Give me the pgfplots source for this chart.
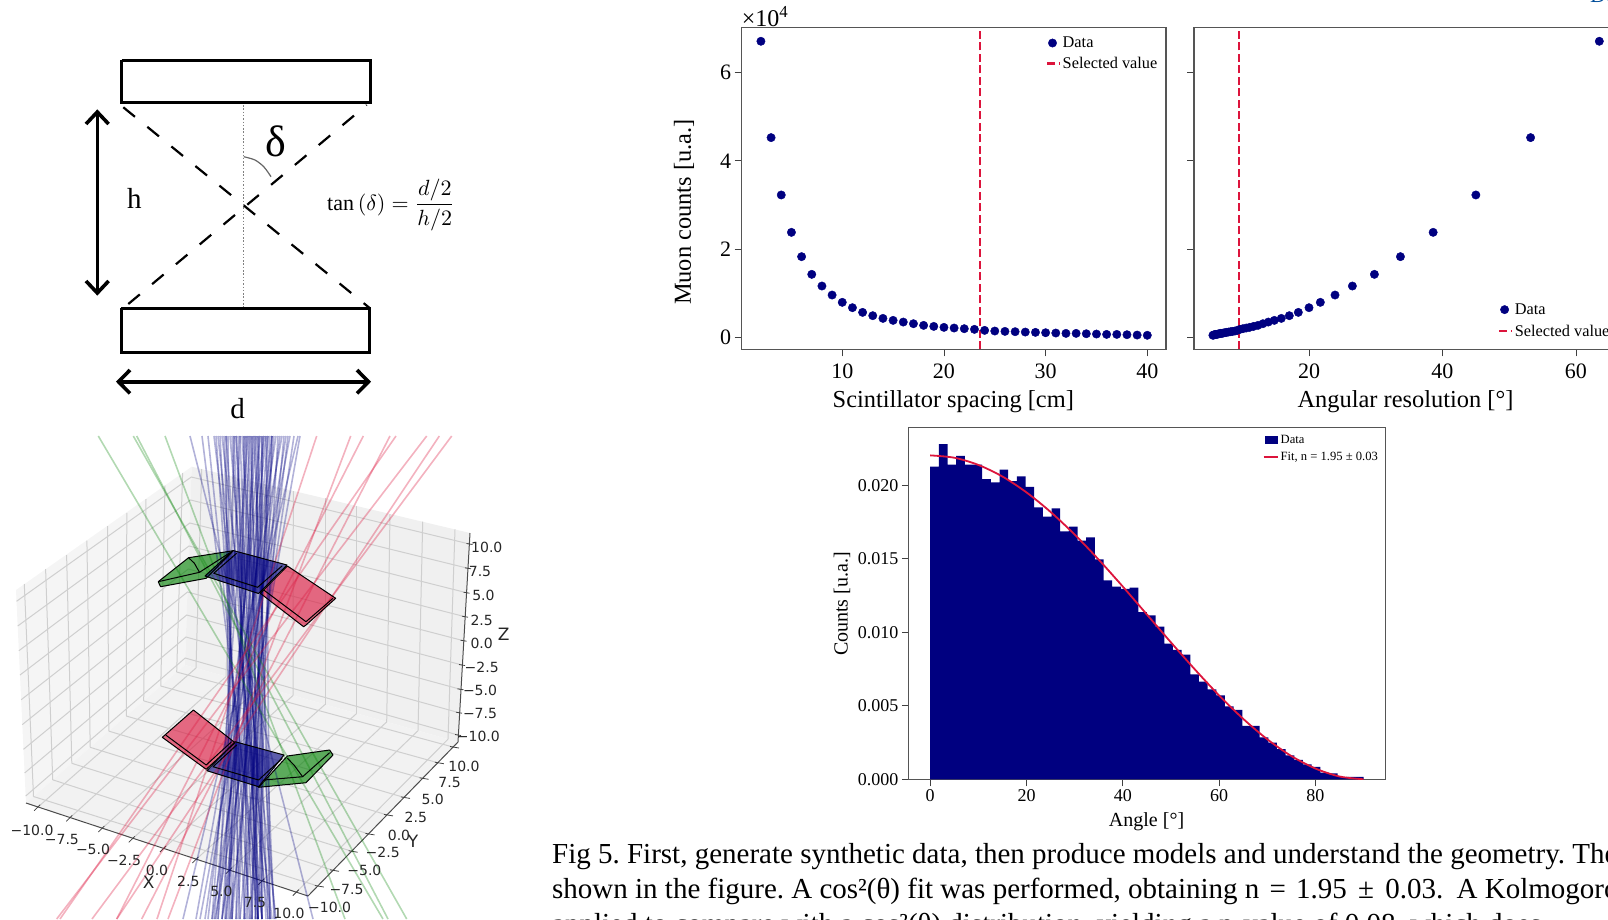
\documentclass[border=0pt]{standalone}
\usepackage{fontspec}
\setmainfont{Liberation Serif}
\newfontfamily\djv{DejaVu Sans}
\usepackage{pgfplots}
\usepackage{pgfplotstable}
\pgfplotsset{compat=1.18}
\definecolor{navyc}{HTML}{000080}
\definecolor{crim}{HTML}{DC143C}
\definecolor{gridc}{HTML}{CFCFCF}
\definecolor{frame}{HTML}{555555}
\newcommand{\fs}[1]{\fontsize{#1}{#1}\selectfont}
\pgfplotstableread{
s c
2 6.704
3 4.525
4 3.228
5 2.383
6 1.833
7 1.433
8 1.169
9 0.965
10 0.800
11 0.679
12 0.573
13 0.498
14 0.437
15 0.392
16 0.354
17 0.317
18 0.279
19 0.256
20 0.234
21 0.219
22 0.204
23 0.189
24 0.166
25 0.151
26 0.143
27 0.136
28 0.128
29 0.121
30 0.113
31 0.106
32 0.098
33 0.098
34 0.090
35 0.083
36 0.075
37 0.075
38 0.068
39 0.060
40 0.055
}\spacing
\pgfplotstableread{
a c
63.5 6.704
53.2 4.525
45.0 3.228
38.6 2.383
33.7 1.833
29.8 1.433
26.5 1.169
23.9 0.965
21.7 0.800
20.0 0.679
18.4 0.573
17.05 0.498
15.85 0.437
14.8 0.392
13.9 0.354
13.1 0.317
12.35 0.279
11.7 0.256
11.1 0.234
10.6 0.219
10.1 0.204
9.65 0.189
9.25 0.166
8.9 0.151
8.55 0.143
8.25 0.136
7.95 0.128
7.65 0.121
7.4 0.113
7.15 0.106
6.95 0.098
6.75 0.098
6.55 0.090
6.35 0.083
6.2 0.075
6.0 0.075
5.85 0.068
5.7 0.060
5.6 0.055
}\resolution
\pgfplotstableread{
x h
0 0.02127
1.8 0.02281
3.6 0.02141
5.4 0.02200
7.2 0.02141
9.0 0.02141
10.8 0.02043
12.6 0.02020
14.4 0.02107
16.2 0.02029
18.0 0.02061
19.8 0.01989
21.6 0.01850
23.4 0.01787
25.2 0.01844
27.0 0.01687
28.8 0.01719
30.6 0.01624
32.4 0.01646
34.2 0.01497
36.0 0.01354
37.8 0.01311
39.6 0.01295
41.4 0.01304
43.2 0.01138
45.0 0.01116
46.8 0.01039
48.6 0.00923
50.4 0.00880
52.2 0.00848
54.0 0.00714
55.8 0.00664
57.6 0.00612
59.4 0.00571
61.2 0.00497
63.0 0.00472
64.8 0.00363
66.6 0.00363
68.4 0.00286
70.2 0.00249
72.0 0.00206
73.8 0.00163
75.6 0.00132
77.4 0.00102
79.2 0.00084
81.0 0.00045
82.8 0.00041
84.6 0.00014
86.4 0.00016
88.2 0.00016
90.0 0.00016
}\hist
\pgfplotstableread{
x f
0 0.02204
5 0.02188
10 0.02139
15 0.02060
20 0.01952
25 0.01819
30 0.01665
35 0.01494
40 0.01311
45 0.01121
50 0.00931
55 0.00746
60 0.00570
65 0.00411
70 0.00272
75 0.00158
80 0.00073
85 0.00019
90 0.00000
}\fit
% overlay helpers: all coordinates are picture pixels
\newcommand{\gl}[2]{\addplot[gridc,line width=1pt] coordinates {#1 #2};}
\newcommand{\gll}[3]{\addplot[gridc,line width=1pt] coordinates {#1 #2 #3};}
\newcommand{\tk}[2]{\addplot[black!75,line width=0.8pt] coordinates {#1 #2};}
\newcommand{\bray}[2]{\addplot[navyc,opacity=0.3,line width=1.6pt] coordinates {(#1,436) (#2,919)};}
\newcommand{\grn}[2]{\addplot[green!50!black,opacity=0.3,line width=1.6pt] coordinates {(#1,436) (#2,919)};}
\newcommand{\rray}[2]{\addplot[crim,opacity=0.33,line width=1.6pt] coordinates {(#1,436) (#2,919)};}
\newcommand{\poly}[2]{\addplot[fill=#1,draw=none,fill opacity=0.62] coordinates {#2};}
\newcommand{\edge}[1]{\addplot[black,line width=1pt,line join=round] coordinates {#1};}
\newcommand{\tl}[3]{\node[font=\djv\fs{14},text=black!85,inner sep=0pt] at (axis cs:#1,#2) {#3};}
\newcommand{\tlb}[3]{\node[font=\djv\fs{17},text=black!85,inner sep=0pt] at (axis cs:#1,#2) {#3};}
\pgfplotsset{
  chart/.style={
    scale only axis, tick align=outside, tick pos=left,
    axis line style={frame,line width=1.2pt},
    tick style={black!75,line width=0.8pt},
    major tick length=7pt,
    /pgf/number format/assume math mode=true,
  },
  redleg/.style={legend image code/.code={\draw[crim,line width=2.2pt] (0.12cm,0cm) -- (0.55cm,0cm);}},
}
\begin{document}
\frenchspacing
\begin{tikzpicture}
\path[use as bounding box,clip] (0pt,0pt) rectangle (1608pt,919pt);
\begin{axis}[at={(0pt,0pt)},anchor=south west,scale only axis,width=1608pt,height=919pt,
  xmin=0,xmax=1608,ymin=0,ymax=919,y dir=reverse,hide axis]
% ---- panes
\addplot[fill=black!4,draw=none] coordinates {(16,590) (191.7,466.7) (185,665) (26,803) (16,590)};
\addplot[fill=black!6,draw=none] coordinates {(191.7,466.7) (470,533) (458,742) (185,665) (191.7,466.7)};
\addplot[fill=black!5,draw=none] coordinates {(26,803) (185,665) (458,742) (308,896) (26,803)};
% ---- grid on left pane
\gl{(24.3,584)}{(33.5,796.5)}\gl{(45.6,569)}{(52.7,779.8)}\gl{(66.6,555)}{(71.8,763.3)}
\gl{(86.9,540.6)}{(90.2,747.3)}\gl{(107.5,526)}{(108.8,731.1)}\gl{(126.8,512.8)}{(126.3,716)}
\gl{(146,499)}{(143.7,700.9)}\gl{(165,485.6)}{(160.8,686)}\gl{(182.6,473)}{(176.7,672)}
% ---- grid on floor
\gl{(33.5,796.5)}{(317.8,886)}\gl{(52.7,779.8)}{(333,870.3)}\gl{(71.8,763.3)}{(351.6,851.2)}
\gl{(90.2,747.3)}{(368.5,833.9)}\gl{(108.8,731.1)}{(387,814.9)}\gl{(126.3,716)}{(404,797.4)}
\gl{(143.7,700.9)}{(422.6,778.3)}\gl{(160.8,686)}{(437.8,762.7)}\gl{(176.7,672)}{(453,747)}
\gl{(37.2,807.7)}{(196,668)}\gl{(69.3,818.3)}{(226,676.6)}\gl{(101.4,829)}{(261,686.4)}
\gl{(131.8,839.3)}{(293,695.5)}\gl{(163,849)}{(325,704.5)}\gl{(195.4,860)}{(356.7,713.4)}
\gl{(228.9,870.7)}{(386.7,721.9)}\gl{(261.3,881.7)}{(418,730.7)}\gl{(295.8,892.7)}{(448,739.2)}
% ---- grid on right pane
\gl{(196,668)}{(201.7,469)}\gl{(226,676.6)}{(233,476.5)}\gl{(261,686.4)}{(265,484)}
\gl{(293,695.5)}{(293.3,491)}\gl{(325,704.5)}{(325,498.4)}\gl{(356.7,713.4)}{(356.7,506)}
\gl{(386.7,721.9)}{(390,514)}\gl{(418,730.7)}{(422.7,521.7)}\gl{(448,739.2)}{(455,529.4)}
% ---- z grid
\gll{(16.5,601.3)}{(191.3,477)}{(469.5,544)}
\gll{(17.7,626)}{(190.6,500)}{(468,568.3)}
\gll{(18.9,650.7)}{(189.8,523)}{(466.5,592.7)}
\gll{(20,675)}{(189,546)}{(465,616.7)}
\gll{(21.2,699.7)}{(188.3,569)}{(463.5,640.7)}
\gll{(22.3,724.6)}{(187.5,592)}{(462,665)}
\gll{(23.5,749.3)}{(186.7,615)}{(460.5,689.3)}
\gll{(24.6,773)}{(186,637)}{(459,712.7)}
\gll{(25.7,796)}{(185.2,658)}{(458,735)}
% ---- axes of the 3D box
\addplot[black!70,line width=1pt] coordinates {(26,803) (308,896) (458,742) (470,533)};
\tk{(34.2,810.7)}{(40.2,804.7)}\tk{(66.3,821.3)}{(72.3,815.3)}\tk{(98.4,832)}{(104.4,826)}
\tk{(128.8,842.3)}{(134.8,836.3)}\tk{(160,852)}{(166,846)}\tk{(192.4,863)}{(198.4,857)}
\tk{(225.9,873.7)}{(231.9,867.7)}\tk{(258.3,884.7)}{(264.3,878.7)}\tk{(292.8,895.7)}{(298.8,889.7)}
\tk{(323.8,887)}{(314.8,885.5)}\tk{(339,871.3)}{(330,869.8)}\tk{(357.6,852.2)}{(348.6,850.7)}
\tk{(374.5,834.9)}{(365.5,833.4)}\tk{(393,815.9)}{(384,814.4)}\tk{(410,798.4)}{(401,796.9)}
\tk{(428.6,779.3)}{(419.6,777.8)}\tk{(443.8,763.7)}{(434.8,762.2)}\tk{(459,748)}{(450,746.5)}
\tk{(472.5,544.5)}{(466.5,543.5)}\tk{(471,568.8)}{(465,567.8)}\tk{(469.5,593.2)}{(463.5,592.2)}
\tk{(468,617.2)}{(462,616.2)}\tk{(466.5,641.2)}{(460.5,640.2)}\tk{(465,665.5)}{(459,664.5)}
\tk{(463.5,689.8)}{(457.5,688.8)}\tk{(462,713.2)}{(456,712.2)}\tk{(461,735.5)}{(455,734.5)}
% ---- panel fills
\poly{green!50!black}{(158.2,581.7) (188.6,557.7) (233.3,550.7) (206.2,578.3) (160.6,586.7) (158.2,581.7)}
\poly{navyc}{(233,550.5) (287,565) (258.5,593.5) (205,576) (233,550.5)}
\poly{crim}{(287.4,566) (335.7,598.3) (306,625) (303.6,626.7) (260.3,593.3) (287.4,566)}
\poly{crim}{(193.4,710) (235,742.7) (206.2,769.3) (162.3,737.3) (193.4,710)}
\poly{navyc}{(235,741.7) (284,755) (258.6,786.7) (206.9,770.7) (235,741.7)}
\poly{green!50!black}{(287.4,756) (329.6,750) (333,755) (306,782.7) (258.6,787.3) (287.4,756)}
% ---- rays
\bray{190}{313}\bray{202}{262}\bray{208}{258}\bray{214}{272}\bray{216}{250}\bray{218}{268}
\bray{220}{245}\bray{222}{276}\bray{224}{240}\bray{226}{262}\bray{228}{232}\bray{230}{270}
\bray{232}{256}\bray{234}{225}\bray{236}{266}\bray{238}{248}\bray{240}{218}\bray{242}{275}
\bray{244}{236}\bray{246}{258}\bray{248}{212}\bray{250}{268}\bray{250}{228}\bray{252}{244}
\bray{254}{274}\bray{256}{222}\bray{258}{252}\bray{260}{214}\bray{262}{262}\bray{264}{236}
\bray{264}{208}\bray{266}{270}\bray{268}{226}\bray{270}{246}\bray{272}{216}\bray{272}{258}
\bray{274}{232}\bray{276}{205}\bray{278}{250}\bray{280}{222}\bray{282}{196}\bray{284}{240}
\bray{286}{212}\bray{288}{230}\bray{290}{200}\bray{294}{222}\bray{298}{183}\bray{300}{215}
\bray{246}{232}\bray{234}{252}\bray{226}{230}\bray{258}{270}
\bray{240}{258}\bray{252}{258}\bray{262}{255}\bray{248}{262}\bray{268}{252}\bray{256}{262}
\bray{244}{256}\bray{236}{258}\bray{272}{244}\bray{260}{238}\bray{254}{226}\bray{266}{218}
\grn{98.3}{383}\grn{133.3}{406.7}\grn{136.7}{388}\grn{165}{345}
\rray{316.7}{157}\rray{350.7}{168}\rray{363.3}{116.7}\rray{390}{141.7}
\rray{396}{60}\rray{426.7}{56.7}\rray{439.3}{116.7}\rray{451.7}{92}
% ---- panel edges, upper
\edge{(158.2,581.7) (188.6,557.7) (233.3,550.7) (206.2,578.3) (160.6,586.7) (158.2,581.7)}
\edge{(158.2,581.7) (199.5,572.3) (229.9,552.7)}
\edge{(188.6,557.7) (194.4,563.3) (199.5,572.3)}
\edge{(233,550.5) (287,565) (258.5,593.5) (205,576) (233,550.5)}
\edge{(236.6,553.3) (213.7,573.3) (257.6,587.3) (282.3,565.7)}
\edge{(287.4,566) (335.7,598.3) (306,625) (303.6,626.7) (260.3,593.3) (287.4,566)}
\edge{(263.7,590) (306,621.7) (333,598.3)}
% ---- panel edges, lower
\edge{(193.4,710) (235,742.7) (206.2,769.3) (162.3,737.3) (193.4,710)}
\edge{(165.7,735) (206.2,765) (231.6,741.7)}
\edge{(235,741.7) (284,755) (258.6,786.7) (206.9,770.7) (235,741.7)}
\edge{(236.6,745) (213,766.7) (258.6,780) (282.3,758.3)}
\edge{(287.4,756) (329.6,750) (333,755) (306,782.7) (258.6,787.3) (287.4,756)}
\edge{(263.7,780) (302.6,776.7) (329.6,752.7)}
\edge{(287.4,758.3) (294,765) (302.6,776.7)}
% ---- 3D tick labels
\tl{486.8}{547.3}{10.0}\tl{480}{571.7}{7.5}\tl{483.4}{595.7}{5.0}\tl{481.7}{620}{2.5}\tl{481.7}{643.3}{0.0}
\tl{481.7}{667}{−2.5}\tl{480}{690.7}{−5.0}\tl{480}{713.7}{−7.5}\tl{478.4}{736.7}{−10.0}
\tlb{503.7}{634}{Z}
\tl{464}{766.7}{10.0}\tl{449.6}{782.7}{7.5}\tl{432.7}{799.3}{5.0}\tl{415.8}{817.3}{2.5}\tl{399}{835}{0.0}
\tl{382.7}{852.3}{−2.5}\tl{364.4}{870}{−5.0}\tl{346.5}{889.3}{−7.5}\tl{329.6}{907.7}{−10.0}
\tlb{413}{841.7}{Y}
\tl{32}{830}{−10.0}\tl{61.9}{839.3}{−7.5}\tl{93}{849.3}{−5.0}\tl{124}{860}{−2.5}\tl{157}{870.7}{0.0}
\tl{188.3}{881.7}{2.5}\tl{221.4}{891.7}{5.0}\tl{255}{902.3}{7.5}\tl{289}{913.3}{10.0}
\tlb{148.7}{882.3}{X}
% ---- schematic
\addplot[black,line width=3pt] coordinates {(121.7,60) (370,60) (370,102.7) (121.7,102.7) (121.7,60)};
\addplot[black,line width=3pt] coordinates {(121,308.3) (369.3,308.3) (369.3,352.3) (121,352.3) (121,308.3)};
\addplot[black,line width=2.2pt,dash pattern=on 15pt off 16pt] coordinates {(123.3,107.3) (370,308.3)};
\addplot[black,line width=2.2pt,dash pattern=on 15pt off 16pt] coordinates {(128.3,304) (366.7,105)};
\addplot[black!50,line width=1.2pt,dash pattern=on 1.5pt off 1.8pt] coordinates {(243.7,105) (243.7,306.7)};
\addplot[black!60,line width=1.2pt,smooth] coordinates {(243.7,156.7) (255,160) (264,167) (271,176.7)};
\addplot[black,line width=3.6pt] coordinates {(97.3,113) (97.3,292)};
\addplot[black,line width=3.6pt,line join=miter] coordinates {(86,124) (97.3,112) (108.6,124)};
\addplot[black,line width=3.6pt,line join=miter] coordinates {(86,281) (97.3,293) (108.6,281)};
\addplot[black,line width=3.6pt] coordinates {(119,381.7) (368,381.7)};
\addplot[black,line width=3.6pt,line join=miter] coordinates {(130,370) (118.5,381.7) (130,393.4)};
\addplot[black,line width=3.6pt,line join=miter] coordinates {(357,370) (368.5,381.7) (357,393.4)};
\node[font=\fs{44},inner sep=0pt] at (axis cs:275.7,141) {δ};
\node[scale=2.9,inner sep=0pt] at (axis cs:134.3,198.3) {$\mathrm{h}$};
\node[scale=2.9,inner sep=0pt] at (axis cs:237.7,408.3) {$\mathrm{d}$};
\node[scale=2.2,inner sep=0pt] at (axis cs:391,205) {$\tan\left(\delta\right)=\displaystyle\frac{d/2}{h/2}$};
% ---- caption
\node[anchor=base west,inner sep=0pt,font=\fs{29}] at (axis cs:552,863) {Fig 5. First, generate synthetic data, then produce models and understand the geometry. The};
\node[anchor=base west,inner sep=0pt,font=\fs{29}] at (axis cs:552,898) {shown in the figure. A cos²(θ) fit was performed, obtaining n\hspace{3pt} = \hspace{3pt}1.95\hspace{4pt} ± \hspace{4pt}0.03.\hspace{6pt} A Kolmogorov};
\node[anchor=base west,inner sep=0pt,font=\fs{29}] at (axis cs:552,933) {applied to compare with a cos²(θ) distribution, yielding a p-value of 0.08, which does};
\node[anchor=base west,inner sep=0pt,font=\fs{22},text=blue!50!cyan!60!black] at (axis cs:1590,2.5) {Do};
\node[font=\fs{24},inner sep=0pt] at (axis cs:765,17) {×10\textsuperscript{4}};
\end{axis}
% ---- spacing
\begin{axis}[chart,at={(741.7pt,569.7pt)},anchor=south west,width=424.3pt,height=322pt,
  xmin=0.11,xmax=41.84,ymin=-0.262,ymax=7.02,xtick={10,20,30,40},ytick={0,2,4,6},
  tick label style={font=\fs{22}},xticklabel style={yshift=-4pt},
  xlabel={Scintillator spacing [cm]},ylabel={Muon counts [u.a.]},
  label style={font=\fs{24.4}},
  x label style={at={(axis description cs:0.4987,-0.163)},anchor=center},
  y label style={at={(axis description cs:-0.136,0.426)},anchor=center},
  legend style={at={(axis description cs:0.715,0.98)},anchor=north west,draw=none,fill=none,font=\fs{16.3},row sep=4pt,inner sep=1pt},
  legend cell align=left]
\addplot[only marks,mark=*,mark size=4.2pt,navyc] table[x=s,y=c] {\spacing};
\addlegendentry{Data}
\addplot[crim,line width=2pt,dash pattern=on 8pt off 3.5pt,redleg] coordinates {(23.54,-0.262) (23.54,7.02)};
\addlegendentry{Selected value}
\end{axis}
% ---- resolution
\begin{axis}[chart,at={(1194pt,569.7pt)},anchor=south west,width=424pt,height=322pt,
  xmin=2.77,xmax=66.3,ymin=-0.262,ymax=7.02,xtick={20,40,60},ytick={0,2,4,6},yticklabels={},
  tick label style={font=\fs{22}},xticklabel style={yshift=-4pt},
  xlabel={Angular resolution [°]},
  label style={font=\fs{24.4}},
  x label style={at={(axis description cs:0.4988,-0.163)},anchor=center},
  legend style={at={(axis description cs:0.715,0.152)},anchor=north west,draw=none,fill=none,font=\fs{16.3},row sep=5pt,inner sep=1pt},
  legend cell align=left]
\addplot[only marks,mark=*,mark size=4.2pt,navyc] table[x=a,y=c] {\resolution};
\addlegendentry{Data}
\addplot[crim,line width=2pt,dash pattern=on 8pt off 3.5pt,redleg] coordinates {(9.5,-0.262) (9.5,7.02)};
\addlegendentry{Selected value}
\end{axis}
% ---- histogram
\begin{axis}[chart,at={(908.8pt,139.7pt)},anchor=south west,width=476.5pt,height=352pt,
  xmin=-4.44,xmax=94.5,ymin=0,ymax=0.02395,xtick={0,20,40,60,80},
  ytick={0,0.005,0.010,0.015,0.020},scaled y ticks=false,
  yticklabel style={/pgf/number format/fixed,/pgf/number format/precision=3,/pgf/number format/fixed zerofill},
  tick label style={font=\fs{18}},
  xlabel={Angle [°]},ylabel={Counts [u.a.]},
  label style={font=\fs{20}},
  x label style={at={(axis description cs:0.499,-0.1205)},anchor=center},
  y label style={at={(axis description cs:-0.14,0.498)},anchor=center},
  legend style={at={(axis description cs:0.74,0.987)},anchor=north west,draw=none,fill=none,font=\fs{12.6},row sep=3pt,inner sep=1pt},
  legend cell align=left]
\addplot[const plot mark left,fill=navyc,draw=none,
  legend image code/.code={\fill[navyc] (0.13cm,-4pt) rectangle (0.58cm,4pt);}] table[x=x,y=h] {\hist} \closedcycle;
\addlegendentry{Data}
\addplot[crim,line width=1.8pt,smooth,legend image code/.code={\draw[crim,line width=1.8pt] (0.08cm,0cm) -- (0.58cm,0cm);}] table[x=x,y=f] {\fit};
\addlegendentry{Fit, n = 1.95 ± 0.03}
\end{axis}
\end{tikzpicture}
\end{document}
